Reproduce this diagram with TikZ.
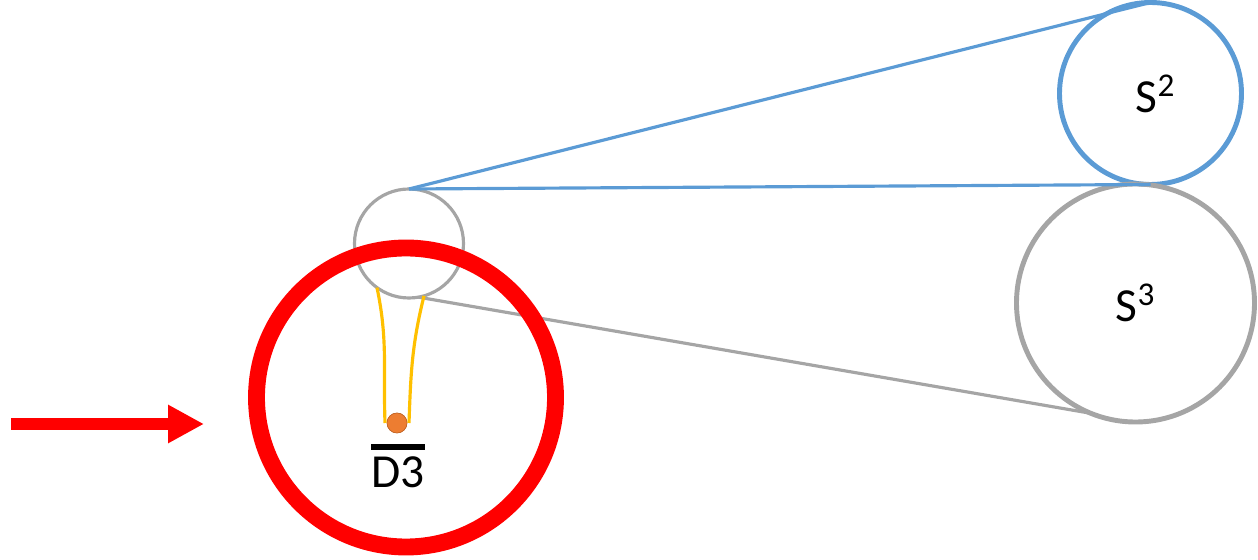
\documentclass[tikz,border=0pt]{standalone}
\usepackage{fontspec}
\setmainfont{Carlito}
\usetikzlibrary{arrows.meta}
\definecolor{skyblue}{RGB}{91,155,213}
\definecolor{midgray}{RGB}{165,165,165}
\definecolor{tangerine}{RGB}{237,125,49}
\definecolor{gold}{RGB}{255,192,0}
\newcommand\barred[1]{\vbox{\hrule height 3.3pt\kern 3.8pt\hbox{#1}}}

\begin{document}
\begin{tikzpicture}[
	orb/.style={circle, draw, inner sep=0pt, outer sep=0pt},
	bigtext/.style={font=\fontsize{27}{32}\selectfont}]
			%%%%% START %%%%%
			\useasboundingbox (0,0) rectangle (25.16,11.2);
			
			\node[orb, draw=midgray, line width=1.8pt, minimum size=2.18cm] (ball) at (8.18, 6.33) {};
			
			\node[orb, draw=skyblue, line width=2.8pt, minimum size=3.64cm, bigtext] (stwo) at (23.01, 9.33) {\hspace{0.2cm}S\textsuperscript{2}};
			\node[orb, draw=midgray, line width=2.8pt, minimum size=4.76cm, bigtext] (sthree) at (22.71, 5.14) {S\textsuperscript{3}};
			
			\draw[line width=1.8pt, color=skyblue] (ball.north) -- (stwo.north);
			\draw[line width=1.8pt, color=skyblue] (ball.north) -- (stwo.south);
			\draw[line width=1.8pt, color=midgray] (ball.-80) -- (sthree.-112);
			
			\node[orb, draw=red, line width=9.6pt, minimum size=5.98cm] (hole) at (8.12, 3.25) {};
			
			\node[circle, fill=tangerine, draw=tangerine!80!black, line width=0.3pt, inner sep=0pt, minimum size=0.4cm, outer sep=0.04cm] (bead) at (7.94, 2.74) {};
			\draw[line width=1.8pt, color=gold] (ball.-126) to[out=-78, in=92] (bead.west);
			\draw[line width=1.8pt, color=gold] (ball.-74) to[out=-104, in=88] (bead.east);
			\node[orb, fill=tangerine, draw=tangerine!80!black, line width=0.3pt, minimum size=0.4cm] at (bead) {};
			
			\node[bigtext, inner sep=0pt, anchor=north] (dlabel) at (7.96, 2.32) {\barred{D3}};
			
			\coordinate (tail) at (0.22, 2.72);
			\coordinate (tip) at (4.08, 2.72);
			\draw[line width=0.24cm, color=red, -{Triangle[length=0.72cm, width=0.72cm]}] (tail) -- (tip);
			%%%%% END %%%%%
\end{tikzpicture}
\end{document}
